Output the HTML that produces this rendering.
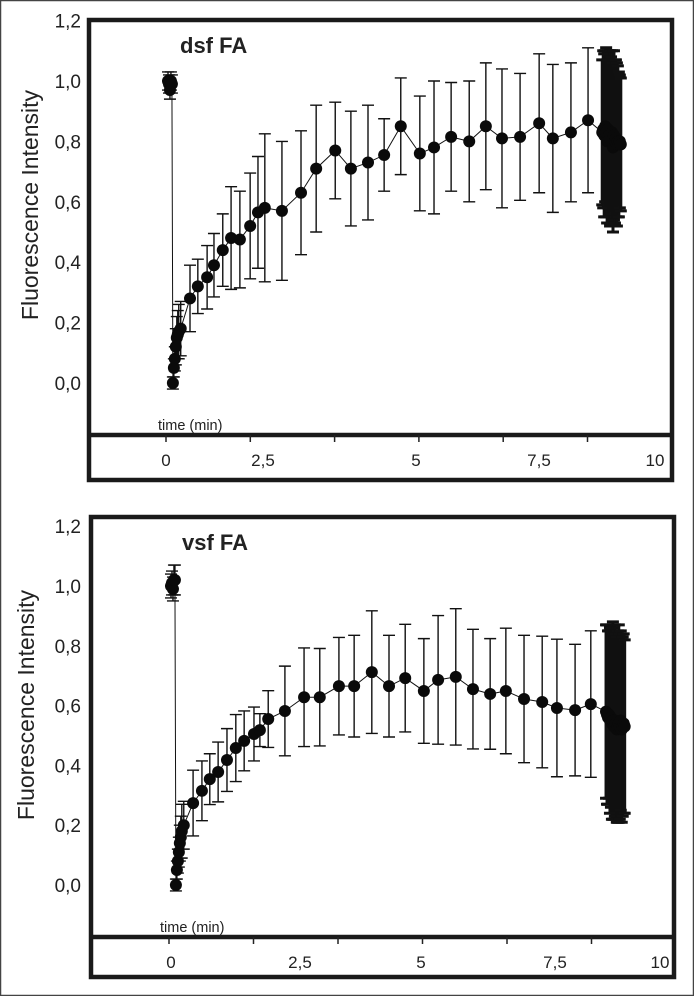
<!DOCTYPE html>
<html><head><meta charset="utf-8"><style>
html,body{margin:0;padding:0;background:#fff}
svg{display:block}
text{font-family:"Liberation Sans",sans-serif;fill:#222}
</style></head><body>
<svg id="fig" width="694" height="996" viewBox="0 0 694 996" xmlns="http://www.w3.org/2000/svg">
<rect x="0.5" y="0.5" width="693" height="995" fill="#fff" stroke="#444" stroke-width="1.5"/>
</svg>
<script>
// ---- top panel data (dsf FA) ----
const dsfTimes = [0,0.02,0.04,0.06,0.08, 0.1,0.12,0.14,0.16,0.18,0.2,0.22,0.26,
 0.45,0.61,0.80,0.94,1.12,1.29,1.47,1.68,1.84,1.98,2.33,2.72,3.03,3.42,3.74,4.09,4.42,4.76,5.15,5.44,5.79,6.16,6.50,6.83,7.20,7.59,7.87,8.24,8.59,
 8.88,8.9,8.92,8.94,8.96,8.98,9.0,9.02,9.04,9.06,9.08,9.1,9.12,9.14,9.16,9.18,9.2,9.22,9.24,9.26];
const dsfValues = [1.0,0.99,0.97,1.0,0.99, 0,0.05,0.08,0.12,0.15,0.16,0.17,0.18,
 0.28,0.32,0.35,0.39,0.44,0.48,0.475,0.52,0.565,0.58,0.57,0.63,0.71,0.77,0.71,0.73,0.755,0.85,0.76,0.78,0.815,0.80,0.85,0.81,0.815,0.86,0.81,0.83,0.87,
 0.83,0.84,0.82,0.85,0.83,0.80,0.84,0.82,0.81,0.80,0.83,0.78,0.82,0.80,0.81,0.79,0.80,0.79,0.80,0.79];
const dsfErrors = [0.03,0.03,0.03,0.03,0.03, 0.02,0.03,0.04,0.06,0.07,0.08,0.09,0.09,
 0.11,0.09,0.105,0.105,0.12,0.17,0.16,0.175,0.185,0.245,0.23,0.205,0.21,0.16,0.19,0.19,0.12,0.16,0.19,0.22,0.18,0.2,0.21,0.23,0.21,0.23,0.245,0.23,0.24,
 0.24,0.26,0.27,0.25,0.28,0.27,0.26,0.27,0.29,0.28,0.27,0.28,0.28,0.27,0.26,0.27,0.25,0.24,0.22,0.22];
// ---- bottom panel data (vsf FA) ----
const vsfTimes = [0,0.02,0.04,0.06,0.08, 0.1,0.12,0.14,0.16,0.18,0.2,0.22,0.26,
 0.45,0.63,0.79,0.96,1.14,1.32,1.49,1.69,1.81,1.98,2.32,2.71,3.03,3.42,3.73,4.09,4.44,4.77,5.15,5.44,5.80,6.15,6.50,6.82,7.19,7.56,7.86,8.23,8.55,
 8.86,8.88,8.9,8.92,8.94,8.96,8.98,9.0,9.02,9.04,9.06,9.08,9.1,9.12,9.14,9.16,9.18,9.2,9.22,9.24];
const vsfValues = [1.0,1.01,0.99,1.02,1.02, 0,0.05,0.08,0.11,0.14,0.16,0.18,0.2,
 0.274,0.315,0.354,0.378,0.418,0.458,0.482,0.505,0.518,0.555,0.582,0.628,0.628,0.665,0.665,0.712,0.665,0.692,0.649,0.686,0.696,0.655,0.639,0.649,0.622,0.612,0.592,0.585,0.605,
 0.58,0.57,0.56,0.57,0.55,0.56,0.54,0.55,0.53,0.55,0.54,0.52,0.53,0.54,0.53,0.55,0.52,0.53,0.54,0.53];
const vsfErrors = [0.04,0.04,0.04,0.05,0.05, 0.02,0.03,0.04,0.05,0.06,0.07,0.09,0.08,
 0.11,0.1,0.085,0.1,0.105,0.112,0.1,0.09,0.055,0.095,0.15,0.165,0.163,0.163,0.17,0.205,0.17,0.18,0.175,0.215,0.228,0.2,0.185,0.21,0.213,0.22,0.23,0.22,0.245,
 0.29,0.3,0.29,0.28,0.31,0.3,0.32,0.33,0.31,0.32,0.3,0.31,0.32,0.33,0.31,0.3,0.31,0.3,0.3,0.29];
const yTickLabels = ["0,0","0,2","0,4","0,6","0,8","1,0","1,2"];
const yTickValues = [0,0.2,0.4,0.6,0.8,1.0,1.2];
const xTickLabels = ["0","2,5","5","7,5","10"];

const NS="http://www.w3.org/2000/svg";
const svg=document.getElementById('fig');
function mk(tag,attrs,parent){const e=document.createElementNS(NS,tag);for(const k in attrs)e.setAttribute(k,attrs[k]);(parent||svg).appendChild(e);return e;}

function panel(cfg){
  const g=mk('g',{});
  
  
  const xs=t=>cfg.x0+t*cfg.pxPerMin;
  const ys=v=>cfg.yZero-v*cfg.pxPerUnit;
  const fr=mk('rect',{x:cfg.L,y:cfg.T,width:cfg.R-cfg.L,height:cfg.B-cfg.T,fill:'none',stroke:'#1a1a1a','stroke-width':4.5},g);
  
  
  const dv=mk('line',{x1:cfg.L,x2:cfg.R,y1:cfg.D,y2:cfg.D,stroke:'#1a1a1a','stroke-width':4.5},g);
  
  
  for(let k=0;k<6;k++){
    const tx=cfg.tick0+k*cfg.tickStep;
    const tk=mk('line',{x1:tx,x2:tx,y1:cfg.D,y2:cfg.D+7,stroke:'#222','stroke-width':1.5},g);
    
    
  }
  xTickLabels.forEach((s,i)=>{
    const t=mk('text',{x:cfg.xLabelPos[i],y:cfg.D+31,'font-size':17,'text-anchor':'middle'},g);
    t.textContent=s;
    
    
  });
  yTickLabels.forEach((s,i)=>{
    const t=mk('text',{x:81,y:ys(yTickValues[i])+7,'font-size':19,'text-anchor':'end'},g);
    t.textContent=s;
    
    
  });
  const yt=mk('text',{x:0,y:0,'font-size':23,'text-anchor':'middle',transform:`translate(${cfg.yTitleX},${cfg.yTitleY}) rotate(-90)`},g);
  yt.textContent='Fluorescence Intensity';
  
  
  const xt=mk('text',{x:cfg.L+69,y:cfg.D-5,'font-size':14.5},g);
  xt.textContent='time (min)';
  
  
  const ti=mk('text',{x:cfg.L+91,y:cfg.T+33,'font-size':22,'font-weight':'bold',fill:'#111'},g);
  ti.textContent=cfg.title;
  
  
  cfg.t.forEach((tv,i)=>{
    const x=xs(tv),y1=ys(cfg.v[i]+cfg.e[i]),y2=ys(cfg.v[i]-cfg.e[i]);
    const sw = tv>8.8 ? 3 : 1.4;
    const eb=mk('path',{d:`M${x},${y1}V${y2}M${x-6},${y1}H${x+6}M${x-6},${y2}H${x+6}`,stroke:'#111','stroke-width':sw,fill:'none'},g);
    
    
  });
  const pts=cfg.t.map((tv,i)=>xs(tv)+','+ys(cfg.v[i])).join(' ');
  const pl=mk('polyline',{points:pts,fill:'none',stroke:'#111','stroke-width':1},g);
  
  
  cfg.t.forEach((tv,i)=>{
    const c=mk('circle',{cx:xs(tv),cy:ys(cfg.v[i]),r:6,fill:'#0a0a0a'},g);
    
    
  });
}

panel({name:'dsf',title:'dsf FA',t:dsfTimes,v:dsfValues,e:dsfErrors,
  L:89,T:20,R:672,B:480,D:435,x0:168,pxPerMin:48.9,yZero:383,pxPerUnit:302,
  tick0:166,tickStep:84.3,xLabelPos:[166,263,416,539,655],yTitleX:38,yTitleY:205});
panel({name:'vsf',title:'vsf FA',t:vsfTimes,v:vsfValues,e:vsfErrors,
  L:91,T:517,R:674,B:977,D:937,x0:171,pxPerMin:49.1,yZero:885,pxPerUnit:299,
  tick0:169,tickStep:84.5,xLabelPos:[171,300,421,555,660],yTitleX:34,yTitleY:705});
</script>
</body></html>
